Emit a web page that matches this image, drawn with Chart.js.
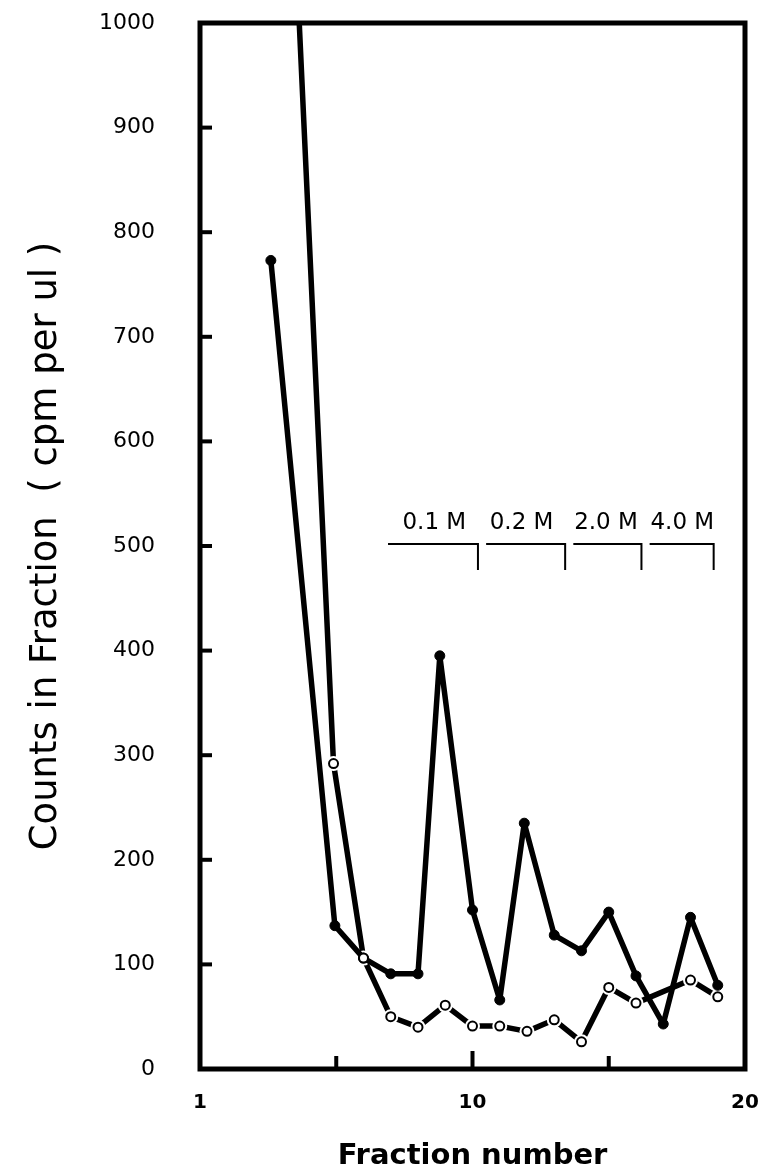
<!DOCTYPE html>
<html>
<head>
<meta charset="utf-8">
<script src="https://cdn.jsdelivr.net/npm/chart.js@4.4.0/dist/chart.umd.min.js"></script>
<style>
  html, body { margin: 0; padding: 0; background: #fff; }
</style>
</head>
<body>
<canvas id="chart" width="768" height="1171"></canvas>
<script>
const fractionsFilled = [2.6, 4.95, 6, 7, 8, 8.8, 10, 11, 11.9, 13, 14, 15, 16, 17, 18, 19];
const countsFilled = [773, 137, 106, 91, 91, 395, 152, 66, 235, 128, 113, 150, 89, 43, 145, 80];
// open circles (first point is off scale)
const fractionsOpen = [3.5, 4.9, 6, 7, 8, 9, 10, 11, 12, 13, 14, 15, 16, 18, 19];
const countsOpen = [1080, 292, 106, 50, 40, 61, 41, 41, 36, 47, 26, 78, 63, 85, 69];

const xTickLabels = { 0: "1", 10: "10", 20: "20" };
const yTicks = [100, 200, 300, 400, 500, 600, 700, 800, 900];
const xTicks = [5, 10, 15];

// salt steps marked above the curves
const saltLabels = ["0.1 M", "0.2 M", "2.0 M", "4.0 M"];
const saltStart = [6.9, 10.5, 13.7, 16.5];
const saltEnd = [10.2, 13.4, 16.2, 18.85];
const saltTextX = [8.6, 11.8, 14.9, 17.7];

const toPoints = (xs, ys) => xs.map((x, i) => ({ x: x, y: ys[i] }));

const framePlugin = {
  id: "frame",
  afterDraw(chart) {
    const { ctx, chartArea: a, scales: { x, y } } = chart;
    ctx.save();
    ctx.strokeStyle = "#000";
    ctx.lineWidth = 5;
    ctx.strokeRect(a.left, a.top, a.right - a.left, a.bottom - a.top);

    // inward tick marks
    ctx.lineWidth = 4;
    yTicks.forEach(v => {
      const py = y.getPixelForValue(v);
      ctx.beginPath();
      ctx.moveTo(a.left, py);
      ctx.lineTo(a.left + 12, py);
      ctx.stroke();
    });
    xTicks.forEach(v => {
      const px = x.getPixelForValue(v);
      ctx.beginPath();
      ctx.moveTo(px, a.bottom);
      ctx.lineTo(px, a.bottom - (v === 10 ? 18 : 13));
      ctx.stroke();
    });

    // salt brackets
    ctx.lineWidth = 2;
    ctx.fillStyle = "#000";
    ctx.font = "23px 'DejaVu Sans'";
    ctx.textAlign = "center";
    ctx.textBaseline = "middle";
    const yLine = y.getPixelForValue(502);
    const yDrop = y.getPixelForValue(477);
    const yText = y.getPixelForValue(522);
    saltLabels.forEach((lab, i) => {
      const x0 = x.getPixelForValue(saltStart[i]);
      const x1 = x.getPixelForValue(saltEnd[i]);
      ctx.beginPath();
      ctx.moveTo(x0, yLine);
      ctx.lineTo(x1, yLine);
      ctx.lineTo(x1, yDrop);
      ctx.stroke();
      ctx.fillText(lab, x.getPixelForValue(saltTextX[i]), yText);
    });
    ctx.restore();
  }
};

const ctx = document.getElementById("chart").getContext("2d");
new Chart(ctx, {
  type: "line",
  data: {
    datasets: [
      {
        label: "open markers",
        data: toPoints(fractionsOpen, countsOpen),
        showLine: false,
        pointRadius: 4.5,
        pointBackgroundColor: "#fff",
        pointBorderColor: "#000",
        pointBorderWidth: 2,
        clip: 0,
        order: 0,
      },
      {
        label: "filled",
        data: toPoints(fractionsFilled, countsFilled),
        borderColor: "#000",
        borderWidth: 5.5,
        borderJoinStyle: "round",
        pointRadius: 5,
        pointBackgroundColor: "#000",
        pointBorderColor: "#000",
        pointBorderWidth: 1,
        tension: 0,
        clip: 0,
        order: 1,
      },
      {
        label: "open gaps",
        data: toPoints(fractionsOpen, countsOpen),
        showLine: false,
        pointRadius: 7.5,
        pointBackgroundColor: "#fff",
        pointBorderWidth: 0,
        clip: 0,
        order: 2,
      },
      {
        label: "open line",
        data: toPoints(fractionsOpen, countsOpen),
        borderColor: "#000",
        borderWidth: 5.5,
        borderJoinStyle: "round",
        pointRadius: 0,
        tension: 0,
        clip: 0,
        order: 3,
      },
    ],
  },
  options: {
    responsive: false,
    animation: false,
    layout: { padding: { top: 23, right: 23, left: 0, bottom: 0 } },
    plugins: { legend: { display: false }, tooltip: { enabled: false } },
    scales: {
      x: {
        type: "linear",
        min: 0,
        max: 20,
        grid: { display: false, drawTicks: true, tickLength: 22 },
        border: { display: false },
        ticks: {
          stepSize: 5,
          autoSkip: false,
          maxRotation: 0,
          padding: 0,
          color: "#000",
          font: { family: "'DejaVu Sans'", size: 20, weight: "bold" },
          callback: v => xTickLabels[v] || "",
        },
        title: {
          display: true,
          text: "Fraction number",
          color: "#000",
          font: { family: "'DejaVu Sans'", size: 29, weight: "bold", lineHeight: 1 },
          padding: 0,
        },
        afterFit: s => { s.height = 102; },
      },
      y: {
        min: 0,
        max: 1000,
        grid: { display: false, drawTicks: true, tickLength: 45 },
        border: { display: false },
        ticks: {
          stepSize: 100,
          padding: 0,
          color: "#000",
          font: { family: "'DejaVu Sans'", size: 22 },
          callback: v => String(v),
        },
        title: {
          display: true,
          text: "Counts in Fraction  ( cpm per ul )",
          color: "#000",
          font: { family: "'DejaVu Sans'", size: 37 },
          padding: { top: 24, bottom: 0 },
        },
        afterFit: s => { s.width = 200; },
      },
    },
  },
  plugins: [framePlugin],
});
</script>
</body>
</html>
